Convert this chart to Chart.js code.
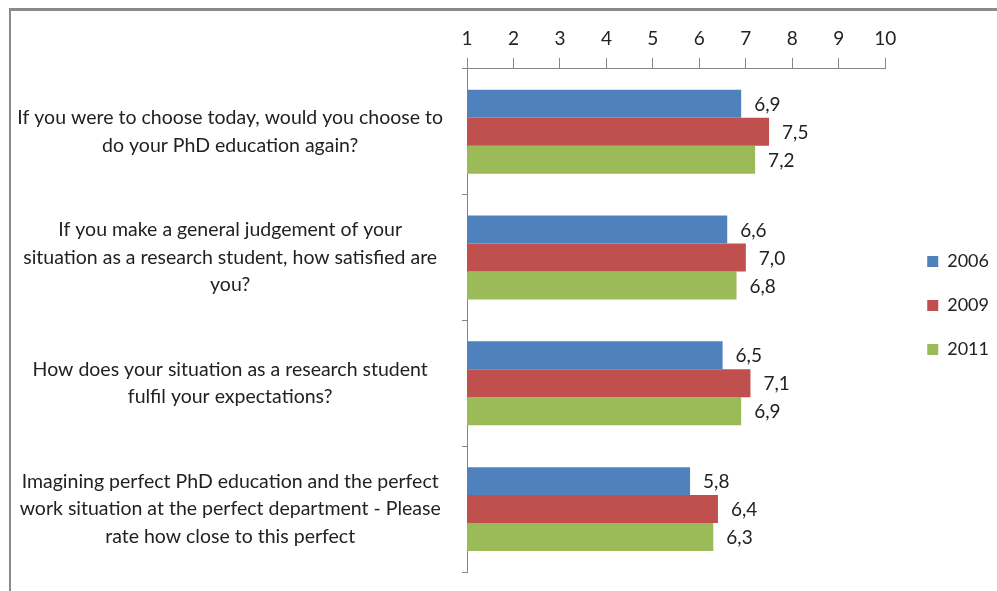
<!DOCTYPE html>
<html>
<head>
<meta charset="utf-8">
<script src="https://cdn.jsdelivr.net/npm/chart.js@4.4.1/dist/chart.umd.min.js"></script>
<style>
  html, body { margin: 0; padding: 0; background: #fff; overflow: hidden; }
  #frame {
    position: absolute; left: 9px; top: 8px; width: 1000px; height: 600px;
    border-left: 2px solid #8a8a8a; border-top: 3px solid #8a8a8a;
  }
  #wrap { position: absolute; left: 0; top: 0; width: 997px; height: 591px; }
</style>
</head>
<body>
<div id="frame"></div>
<div id="wrap"><canvas id="chart"></canvas></div>
<script>
const questions = [
  ['If you were to choose today, would you choose to', 'do your PhD education again?'],
  ['If you make a general judgement of your', 'situation as a research student, how satisfied are', 'you?'],
  ['How does your situation as a research student', 'fulfil your expectations?'],
  ['Imagining perfect PhD education and the perfect', 'work situation at the perfect department - Please', 'rate how close to this perfect'],
];
const years = ['2006', '2009', '2011'];
const values2006 = [6.9, 6.6, 6.5, 5.8];
const values2009 = [7.5, 7.0, 7.1, 6.4];
const values2011 = [7.2, 6.8, 6.9, 6.3];
const scaleTicks = [1, 2, 3, 4, 5, 6, 7, 8, 9, 10];

const FONT = 'Lato, "Open Sans", sans-serif';
const TEXT = '#222';
const AXIS = '#868686';

// values next to the bar ends, with a decimal comma
const barLabels = {
  id: 'barLabels',
  afterDatasetsDraw(chart) {
    const ctx = chart.ctx;
    ctx.save();
    ctx.font = '19px ' + FONT;
    ctx.fillStyle = TEXT;
    ctx.textAlign = 'left';
    ctx.textBaseline = 'middle';
    chart.data.datasets.forEach((ds, i) => {
      chart.getDatasetMeta(i).data.forEach((bar, j) => {
        ctx.fillText(ds.data[j].toFixed(1).replace('.', ','), bar.x + 13, bar.y + 1);
      });
    });
    ctx.restore();
  },
};

// push the legend a bit further right and down, like the original
const legendShift = {
  id: 'legendShift',
  beforeDraw(chart) {
    const lg = chart.legend;
    if (!lg || lg._shifted) return;
    lg.left += 16; lg.right += 16;
    lg.top += 10; lg.bottom += 10;
    lg._shifted = true;
  },
};

new Chart(document.getElementById('chart').getContext('2d'), {
  type: 'bar',
  data: {
    labels: questions,
    datasets: [
      { label: years[0], data: values2006, backgroundColor: '#4f81bd' },
      { label: years[1], data: values2009, backgroundColor: '#c0504d' },
      { label: years[2], data: values2011, backgroundColor: '#9bbb59' },
    ],
  },
  options: {
    indexAxis: 'y',
    responsive: true,
    maintainAspectRatio: false,
    animation: false,
    layout: { padding: { top: 19, bottom: 19, left: 10, right: 14 } },
    datasets: { bar: { categoryPercentage: 0.667, barPercentage: 1 } },
    scales: {
      x: {
        position: 'top',
        min: 1,
        max: 10,
        afterBuildTicks: (axis) => {
          axis.ticks = scaleTicks.map((v) => ({ value: v }));
        },
        grid: { drawOnChartArea: false, tickLength: 11, color: AXIS },
        border: { color: AXIS },
        ticks: { font: { family: FONT, size: 19 }, color: TEXT, padding: 8 },
      },
      y: {
        afterFit: (axis) => {
          axis.width = 457;
          axis.paddingTop = 0;
          axis.paddingBottom = 0;
        },
        grid: { drawOnChartArea: false, tickLength: 5, color: AXIS, offset: true },
        border: { color: AXIS },
        ticks: {
          font: { family: FONT, size: 19.5, lineHeight: 1.41 },
          color: TEXT,
          crossAlign: 'center',
          padding: 19,
        },
      },
    },
    plugins: {
      legend: {
        position: 'right',
        labels: {
          boxWidth: 11,
          boxHeight: 11,
          padding: 26,
          color: TEXT,
          font: { family: FONT, size: 18 },
        },
      },
      tooltip: { enabled: false },
    },
  },
  plugins: [barLabels, legendShift],
});
</script>
</body>
</html>
